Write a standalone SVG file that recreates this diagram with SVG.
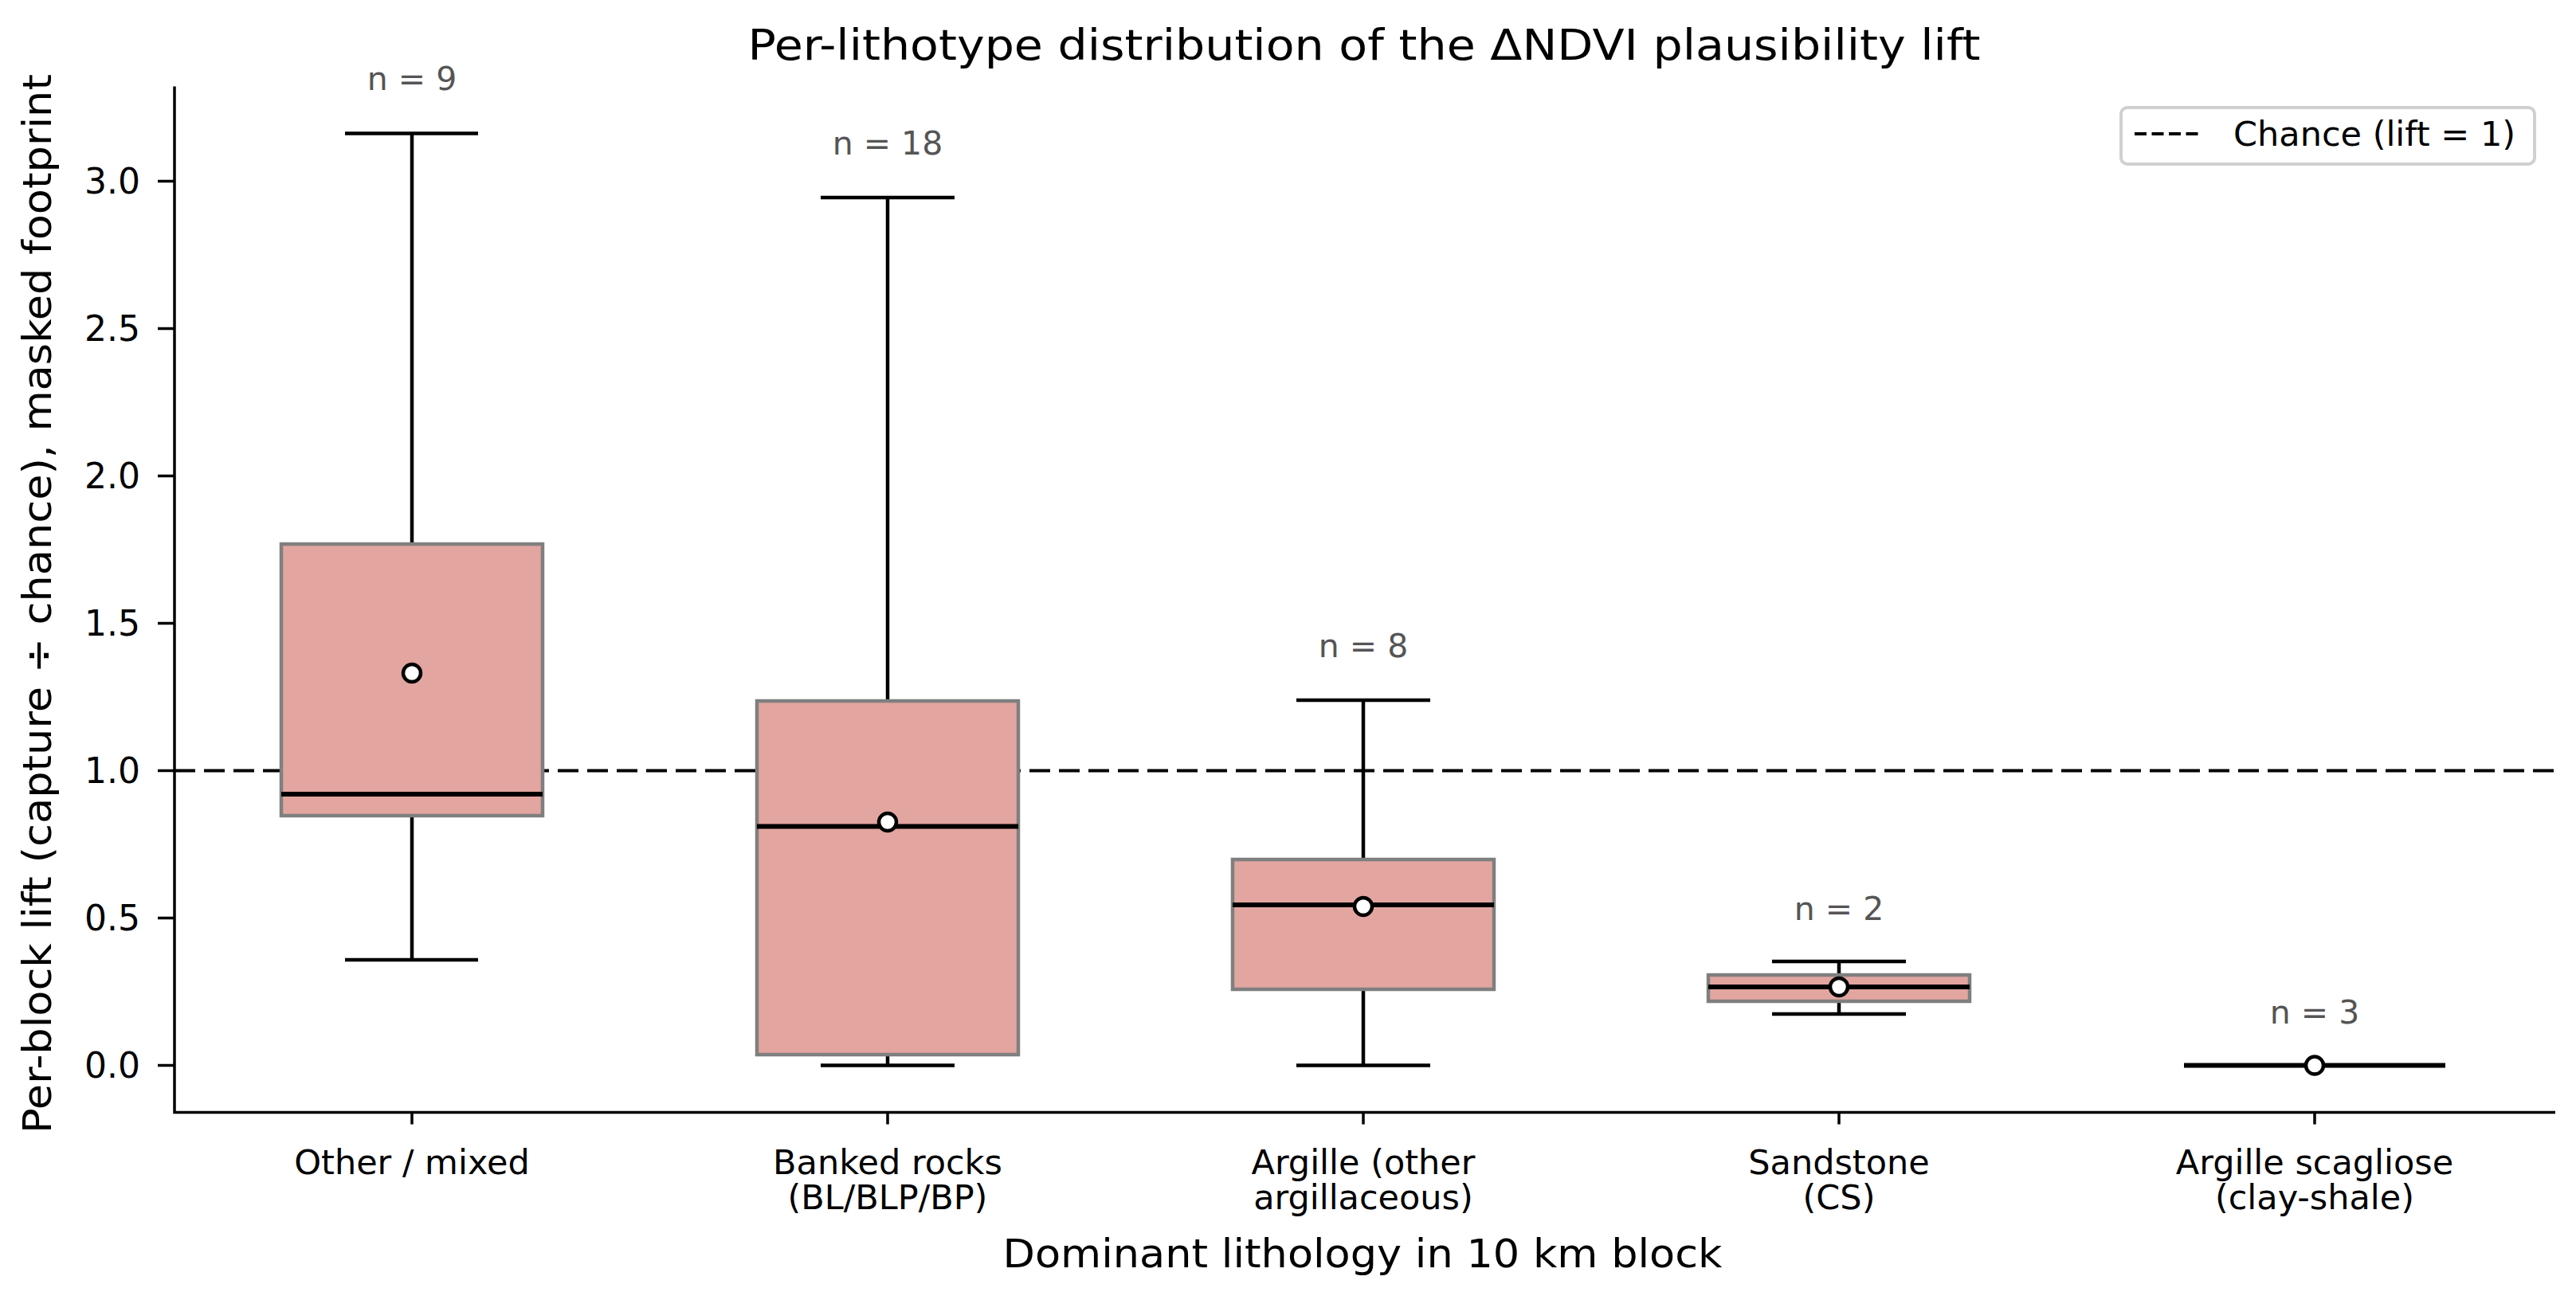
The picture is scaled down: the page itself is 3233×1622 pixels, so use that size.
<svg xmlns="http://www.w3.org/2000/svg" width="3233" height="1622" viewBox="0 0 3233 1622">
<style>
text{font-family:"DejaVu Sans","Liberation Sans",sans-serif;fill:#000}
.tk{font-size:44px;text-anchor:end}
.cat{font-size:43px;text-anchor:middle}
.n{font-size:41px;text-anchor:middle;fill:#555}
.box{fill:#e3a5a0;stroke:#7f7f7f;stroke-width:4.5}
.w{stroke:#000;stroke-width:4.5;fill:none}
.med{stroke:#000;stroke-width:6}
.mean{fill:#fff;stroke:#000;stroke-width:4.5}
.ax{stroke:#000;stroke-width:3.5;fill:none}
</style>
<rect width="3233" height="1622" fill="#fff"/>
<text x="1712" y="75" font-size="54" text-anchor="middle" textLength="1547" lengthAdjust="spacingAndGlyphs">Per-lithotype distribution of the ΔNDVI plausibility lift</text>
<g id="axes">
<path class="ax" d="M219,108.6 V1396.5 H3207"/>
<path class="ax" d="M198,1337.5H219M198,1152.5H219M198,967.5H219M198,782.5H219M198,597.5H219M198,412.5H219M198,227.5H219"/>
<path class="ax" d="M517,1396.5v15M1114,1396.5v15M1711,1396.5v15M2308,1396.5v15M2905,1396.5v15"/>
<text class="tk" x="176" y="1353">0.0</text>
<text class="tk" x="176" y="1168">0.5</text>
<text class="tk" x="176" y="983">1.0</text>
<text class="tk" x="176" y="798">1.5</text>
<text class="tk" x="176" y="613">2.0</text>
<text class="tk" x="176" y="428">2.5</text>
<text class="tk" x="176" y="243">3.0</text>
<text x="0" y="0" font-size="50" text-anchor="middle" textLength="1330" lengthAdjust="spacingAndGlyphs" transform="translate(64,758) rotate(-90)">Per-block lift (capture ÷ chance), masked footprint</text>
<text x="1710" y="1591" font-size="49" text-anchor="middle" textLength="903" lengthAdjust="spacingAndGlyphs">Dominant lithology in 10 km block</text>
</g>
<g id="connectors">
<line x1="219" y1="967.5" x2="3207" y2="967.5" stroke="#000" stroke-width="4.2" stroke-dasharray="26,11"/>
</g>
<g id="box-other">
<path class="w" d="M517,683V167.6M433,167.6H600M517,1024V1205M433,1205H600"/>
<rect class="box" x="353" y="683" width="328" height="341"/>
<line class="med" x1="353" y1="997" x2="681" y2="997"/>
<circle class="mean" cx="517" cy="845" r="11"/>
<text class="n" x="517" y="113">n = 9</text>
<text class="cat" x="517" y="1474">Other / mixed</text>
</g>
<g id="box-banked">
<path class="w" d="M1114,880V248M1030,248H1198M1114,1324V1337.5M1030,1337.5H1198"/>
<rect class="box" x="950" y="880" width="328" height="444"/>
<line class="med" x1="950" y1="1037.5" x2="1278" y2="1037.5"/>
<circle class="mean" cx="1114" cy="1032" r="11"/>
<text class="n" x="1114" y="194">n = 18</text>
<text class="cat" x="1114" y="1474">Banked rocks</text>
<text class="cat" x="1114" y="1518">(BL/BLP/BP)</text>
</g>
<g id="box-argille">
<path class="w" d="M1711,1079V879M1627,879H1795M1711,1242V1337.5M1627,1337.5H1795"/>
<rect class="box" x="1547" y="1079" width="328" height="163"/>
<line class="med" x1="1547" y1="1136" x2="1875" y2="1136"/>
<circle class="mean" cx="1711" cy="1138" r="11"/>
<text class="n" x="1711" y="825">n = 8</text>
<text class="cat" x="1711" y="1474">Argille (other</text>
<text class="cat" x="1711" y="1518">argillaceous)</text>
</g>
<g id="box-sandstone">
<path class="w" d="M2308,1224V1207M2224,1207H2392M2308,1257V1273M2224,1273H2392"/>
<rect class="box" x="2144" y="1224" width="328" height="33"/>
<line class="med" x1="2144" y1="1239" x2="2472" y2="1239"/>
<circle class="mean" cx="2308" cy="1239" r="11"/>
<text class="n" x="2308" y="1155">n = 2</text>
<text class="cat" x="2308" y="1474">Sandstone</text>
<text class="cat" x="2308" y="1518">(CS)</text>
</g>
<g id="box-scagliose">
<line class="med" x1="2741" y1="1337.5" x2="3069" y2="1337.5"/>
<circle class="mean" cx="2905" cy="1337.5" r="11"/>
<text class="n" x="2905" y="1285">n = 3</text>
<text class="cat" x="2905" y="1474">Argille scagliose</text>
<text class="cat" x="2905" y="1518">(clay-shale)</text>
</g>
<g id="legend">
<rect x="2662" y="135" width="519" height="71" rx="8" fill="#fff" fill-opacity="0.8" stroke="#d0d0d0" stroke-width="4"/>
<line x1="2679" y1="168" x2="2763" y2="168" stroke="#000" stroke-width="4" stroke-dasharray="15,6.5"/>
<text x="2803" y="183" font-size="43">Chance (lift = 1)</text>
</g>
</svg>
